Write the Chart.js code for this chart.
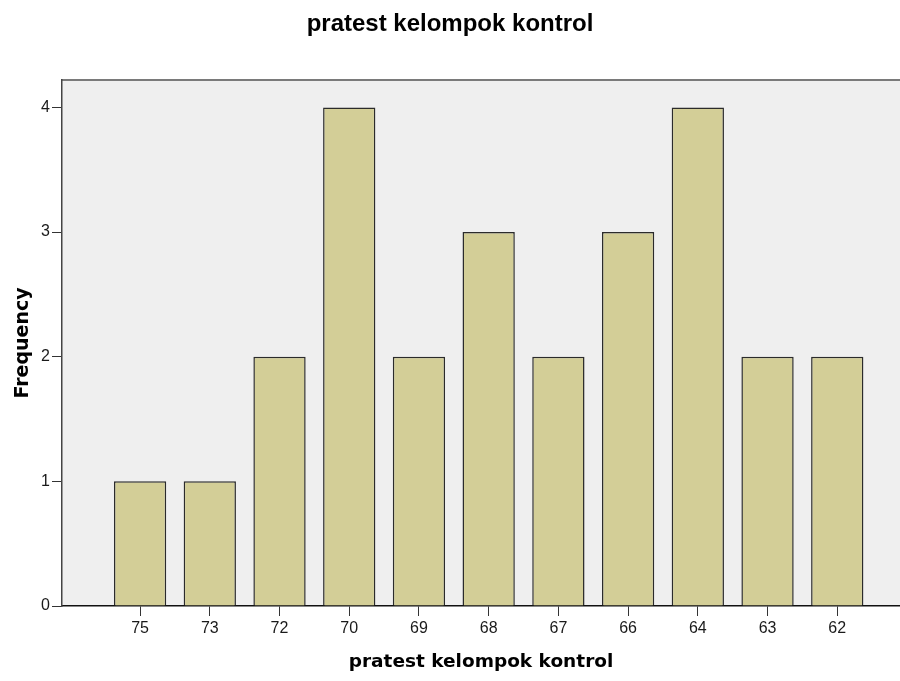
<!DOCTYPE html>
<html>
<head>
<meta charset="utf-8">
<script src="https://cdn.jsdelivr.net/npm/chart.js@4"></script>
<style>
  body { margin: 0; background: #fff; }
  #wrap { width: 900px; height: 681px; }
</style>
</head>
<body>
<div id="wrap"><canvas id="myChart" width="900" height="681"></canvas></div>
<script>
// pratest scores (categories) and how often each one occurs
const categories = ['75', '73', '72', '70', '69', '68', '67', '66', '64', '63', '62'];
const frequency = [1, 1, 2, 4, 2, 3, 2, 3, 4, 2, 2];
const yTicks = [0, 1, 2, 3, 4];

const titleText = 'pratest kelompok kontrol';

// gray plot background + thin top border like SPSS output
const plotBackground = {
    id: 'plotBackground',
    beforeDraw(chart) {
        const { ctx, chartArea: a } = chart;
        ctx.save();
        ctx.fillStyle = '#efefef';
        ctx.fillRect(a.left, a.top, a.right - a.left, a.bottom - a.top);
        ctx.strokeStyle = '#7a7a7a';
        ctx.lineWidth = 2;
        ctx.beginPath();
        ctx.moveTo(a.left, a.top);
        ctx.lineTo(a.right, a.top);
        ctx.stroke();
        ctx.restore();
    }
};

const ctx = document.getElementById('myChart').getContext('2d');
const barChart = new Chart(ctx, {
    type: 'bar',
    data: {
        datasets: [{
            label: 'Frequency',
            data: frequency.map((f, i) => ({ x: i, y: f })),
            backgroundColor: '#d3ce97',
            borderColor: '#2b2b2b',
            borderWidth: 1.5,
            barPercentage: 0.75,
            categoryPercentage: 1
        }]
    },
    options: {
        responsive: false,
        animation: false,
        layout: { padding: 0 },
        plugins: {
            legend: { display: false },
            tooltip: { enabled: false },
            title: {
                display: true,
                text: titleText,
                color: '#000',
                font: { family: '"Liberation Sans", Arial, sans-serif', size: 24, weight: 'bold' },
                padding: { top: 10, bottom: 41.2 }
            }
        },
        scales: {
            x: {
                type: 'linear',
                offset: false,
                min: -1.12,
                max: categories.length - 0.1,
                afterBuildTicks: (scale) => {
                    scale.ticks = categories.map((c, i) => ({ value: i }));
                },
                afterFit: (scale) => { scale.height = 75; },
                ticks: {
                    autoSkip: false,
                    maxRotation: 0,
                    padding: 3,
                    color: '#1a1a1a',
                    font: { family: '"Liberation Sans", Arial, sans-serif', size: 16 },
                    callback: (v) => categories[v]
                },
                grid: { offset: false, drawOnChartArea: false, drawTicks: true, tickLength: 10, color: '#333' },
                border: { display: true, color: '#111', width: 1.5 },
                title: {
                    display: true,
                    text: titleText,
                    color: '#000',
                    font: { family: '"DejaVu Sans", sans-serif', size: 18.5, weight: 'bold' },
                    padding: { top: 4, bottom: 8 }
                }
            },
            y: {
                min: 0,
                max: 4.22,
                afterBuildTicks: (scale) => {
                    scale.ticks = yTicks.map(v => ({ value: v }));
                },
                afterFit: (scale) => { scale.width = 62; },
                ticks: {
                    padding: 2,
                    color: '#1a1a1a',
                    font: { family: '"Liberation Sans", Arial, sans-serif', size: 16 }
                },
                grid: { drawOnChartArea: false, drawTicks: true, tickLength: 10, color: '#333' },
                border: { display: true, color: '#444', width: 1.5 },
                title: {
                    display: true,
                    text: 'Frequency',
                    color: '#000',
                    font: { family: '"DejaVu Sans", sans-serif', size: 19, weight: 'bold' },
                    padding: { top: 12, bottom: 0 }
                }
            }
        }
    },
    plugins: [plotBackground]
});
</script>
</body>
</html>
